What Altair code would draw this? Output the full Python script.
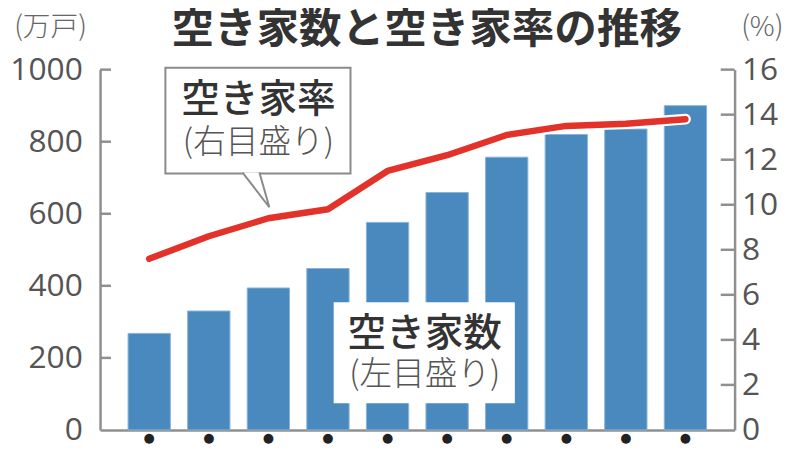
import altair as alt
import pandas as pd

years = ["1978", "1983", "1988", "1993", "1998", "2003", "2008", "2013", "2018", "2023"]
vacant_count = [268, 330, 394, 448, 576, 659, 757, 820, 835, 900]   # 万戸
vacant_rate = [7.6, 8.6, 9.4, 9.8, 11.5, 12.2, 13.1, 13.5, 13.6, 13.8]  # %
left_ticks = [0, 200, 400, 600, 800, 1000]
right_ticks = [0, 2, 4, 6, 8, 10, 12, 14, 16]

title_text = "空き家数と空き家率の推移"
left_unit = "(万戸)"
right_unit = "(%)"
rate_label = ["空き家率", "(右目盛り)"]
count_label = ["空き家数", "(左目盛り)"]

W, H = 641, 364
JP = "Noto Sans CJK JP"
NUM = "Open Sans"
AXIS_GRAY = "#8f8f8f"
LABEL_GRAY = "#555555"

df = pd.DataFrame({"year": years, "count": vacant_count, "rate": vacant_rate})
lt = pd.DataFrame({"count": left_ticks[1:]})
rt = pd.DataFrame({"rate": right_ticks[1:]})

xenc = alt.X("year:N", title=None, sort=years,
             scale=alt.Scale(paddingInner=0.29, paddingOuter=0.47),
             axis=alt.Axis(labelExpr="'●'", tickSize=0, labelFontSize=13, labelColor="#222222",
                           labelAngle=0, labelPadding=2, domainColor=AXIS_GRAY, domainWidth=2.5,
                           grid=False, labelFont="DejaVu Sans"))

left_axis = alt.Axis(orient="left", values=left_ticks, format="d", tickSize=0, labelFontSize=32,
                     labelFont=NUM, labelColor=LABEL_GRAY, labelPadding=18,
                     domainColor=AXIS_GRAY, domainWidth=2.5, grid=False)
right_axis = alt.Axis(orient="right", values=right_ticks, format="d", tickSize=0, labelFontSize=32,
                      labelFont=NUM, labelColor=LABEL_GRAY, labelPadding=7,
                      domainColor=AXIS_GRAY, domainWidth=2.5, grid=False)
yleft = alt.Y("count:Q", title=None, scale=alt.Scale(domain=[0, 1000], nice=False), axis=left_axis)
yright = alt.Y("rate:Q", title=None, scale=alt.Scale(domain=[0, 16], nice=False), axis=right_axis)

bars = alt.Chart(df).mark_bar(color="#4a89bd", stroke="#86b4da", strokeWidth=1).encode(
    x=xenc, y=yleft)
lticks = alt.Chart(lt).mark_rule(color=AXIS_GRAY, strokeWidth=2.5).encode(
    y=yleft, x=alt.value(0), x2=alt.value(11))
left_group = alt.layer(bars, lticks)

halo = alt.Chart(df).mark_line(color="white", strokeWidth=11, strokeCap="round",
                               strokeJoin="round").encode(x=alt.X("year:N", sort=years), y=yright)
line = alt.Chart(df).mark_line(color="#e2322a", strokeWidth=6.5, strokeCap="round",
                               strokeJoin="round").encode(x=alt.X("year:N", sort=years), y=yright)
rticks = alt.Chart(rt).mark_rule(color=AXIS_GRAY, strokeWidth=2.5).encode(
    y=yright, x=alt.value(W - 14), x2=alt.value(W))
right_group = alt.layer(halo, line, rticks)

one = pd.DataFrame({"k": [0]})

box1 = alt.Chart(one).mark_rect(fill="white", stroke="#8a8a8a", strokeWidth=2).encode(
    x=alt.value(66), x2=alt.value(253), y=alt.value(-2), y2=alt.value(105))
tail = alt.Chart(one).mark_point(shape="M0,0 L0.794,1.03 L0.5,0", size=4624, filled=True,
                                 fill="white", stroke="#8a8a8a", strokeWidth=2, opacity=1).encode(
    x=alt.value(144), y=alt.value(104))
t1a = alt.Chart(one).mark_text(text=rate_label[0], font=JP, fontSize=39, color="#333333",
                               fontWeight=500).encode(x=alt.value(160), y=alt.value(31))
t1b = alt.Chart(one).mark_text(text=rate_label[1], font=JP, fontSize=33, color="#555555",
                               fontWeight=300).encode(x=alt.value(160), y=alt.value(74))

box2 = alt.Chart(one).mark_rect(fill="white").encode(
    x=alt.value(236), x2=alt.value(419), y=alt.value(235), y2=alt.value(337))
t2a = alt.Chart(one).mark_text(text=count_label[0], font=JP, fontSize=39, color="#333333",
                               fontWeight=500).encode(x=alt.value(328), y=alt.value(267))
t2b = alt.Chart(one).mark_text(text=count_label[1], font=JP, fontSize=33, color="#555555",
                               fontWeight=300).encode(x=alt.value(328), y=alt.value(309))

title = alt.Chart(one).mark_text(text=title_text, font=JP, fontSize=43, fontWeight="bold",
                                 color="#333333").encode(x=alt.value(330), y=alt.value(-40))
lunit = alt.Chart(one).mark_text(text=left_unit, font=JP, fontSize=28, color="#666666",
                                 fontWeight=300).encode(x=alt.value(-50), y=alt.value(-42))
runit = alt.Chart(one).mark_text(text=right_unit, font=JP, fontSize=28, color="#666666",
                                 fontWeight=300).encode(x=alt.value(669), y=alt.value(-42))

chart = alt.layer(left_group, right_group, box1, tail, t1a, t1b, box2, t2a, t2b,
                  title, lunit, runit).resolve_scale(y="independent").properties(
    width=W, height=H,
    autosize=alt.AutoSizeParams(type="none"),
    padding={"left": 93, "top": 60, "right": 58, "bottom": 18},
).configure_view(stroke=None)

chart.save("out.html", embed_options={"renderer": "svg", "actions": False})
